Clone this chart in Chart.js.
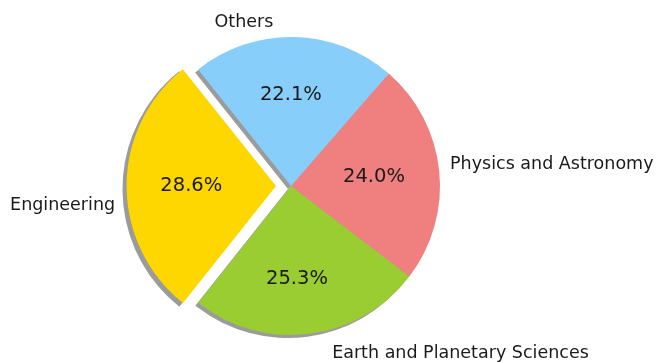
<!DOCTYPE html>
<html>
<head>
<meta charset="utf-8">
<script src="https://cdn.jsdelivr.net/npm/chart.js@4/dist/chart.umd.min.js"></script>
<style>
  html, body { margin: 0; padding: 0; background: #ffffff; }
  canvas { display: block; }
</style>
</head>
<body>
<canvas id="chart" width="657" height="363"></canvas>
<script>
// Share of output by subject area (percent), listed clockwise from the upper right
const categories = ['Physics and Astronomy', 'Earth and Planetary Sciences', 'Engineering', 'Others'];
const shares = [24.0, 25.3, 28.6, 22.1];
const sliceColors = ['#F08080', '#9ACD32', '#FFD700', '#87CEFA'];
const explodedCategory = 'Engineering';

// Geometry of an arc as Chart.js actually paints it (offset shifts the wedge by offset/4)
function arcGeometry(el) {
  const p = el.getProps(['x', 'y', 'startAngle', 'endAngle', 'outerRadius', 'circumference'], true);
  const off = el.options.offset || 0;
  const mid = (p.startAngle + p.endAngle) / 2;
  const shift = off / 4;
  const fix = 1 - Math.sin(Math.min(Math.PI, p.circumference || 0));
  return {
    cx: p.x + Math.cos(mid) * shift,
    cy: p.y + Math.sin(mid) * shift,
    r: p.outerRadius + off * fix,
    R: p.outerRadius,
    start: p.startAngle,
    end: p.endAngle,
    mid: mid
  };
}

// Drop shadow under the wedges, plus percentage and category labels
const pieDecor = {
  id: 'pieDecor',
  beforeDatasetsDraw(chart, args, opts) {
    const ctx = chart.ctx;
    const meta = chart.getDatasetMeta(0);
    ctx.save();
    ctx.fillStyle = opts.shadowColor;
    meta.data.forEach(el => {
      const g = arcGeometry(el);
      const sx = g.cx + opts.shadowDx;
      const sy = g.cy + opts.shadowDy;
      ctx.beginPath();
      ctx.moveTo(sx, sy);
      ctx.arc(sx, sy, g.r, g.start, g.end);
      ctx.closePath();
      ctx.fill();
    });
    ctx.restore();
  },
  afterDatasetsDraw(chart, args, opts) {
    const ctx = chart.ctx;
    const meta = chart.getDatasetMeta(0);
    const values = chart.data.datasets[0].data;
    const names = chart.data.labels;
    ctx.save();
    ctx.fillStyle = opts.color;
    ctx.textBaseline = 'alphabetic';
    meta.data.forEach((el, i) => {
      const g = arcGeometry(el);
      const c = Math.cos(g.mid), s = Math.sin(g.mid);

      // percentage inside the wedge
      const pn = opts.pctNudge[i];
      const px = g.cx + c * g.R * opts.pctDistance + pn[0];
      const py = g.cy + s * g.R * opts.pctDistance + pn[1];
      ctx.font = opts.pctSize + 'px ' + opts.family;
      ctx.textAlign = 'center';
      ctx.fillText(values[i].toFixed(1) + '%', px, py + opts.pctSize * opts.capRatio / 2);

      // category name outside the wedge
      const nn = opts.nameNudge[i];
      const nx = g.cx + c * g.R * opts.nameDistance + nn[0];
      const ny = g.cy + s * g.R * opts.nameDistance + nn[1];
      ctx.font = opts.nameSize + 'px ' + opts.family;
      ctx.textAlign = c > 0.05 ? 'left' : (c < -0.05 ? 'right' : 'center');
      ctx.fillText(names[i], nx, ny + opts.nameSize * opts.capRatio / 2);
    });
    ctx.restore();
  }
};

new Chart(document.getElementById('chart'), {
  type: 'pie',
  data: {
    labels: categories,
    datasets: [{
      data: shares,
      backgroundColor: sliceColors,
      borderWidth: 0,
      hoverOffset: 0,
      offset: c => categories[c.dataIndex] === explodedCategory ? 60 : 0
    }]
  },
  options: {
    responsive: false,
    animation: false,
    events: [],
    rotation: 41,
    radius: 149,
    layout: { padding: { left: 0, right: 75, top: 9, bottom: 0 } },
    plugins: {
      legend: { display: false },
      tooltip: { enabled: false },
      pieDecor: {
        shadowColor: '#9b9b9b',
        shadowDx: -3,
        shadowDy: 3,
        color: '#1a1a1a',
        family: '"DejaVu Sans", sans-serif',
        capRatio: 0.729,
        pctSize: 19.5,
        nameSize: 17.5,
        pctDistance: 0.6,
        nameDistance: 1.1,
        pctNudge: [[-6, -2.3], [-5, 2.3], [4.7, -2], [-2, -3.6]],
        nameNudge: [[-4, -6.4], [21, 2.8], [3, 17], [-50.5, -1.8]]
      }
    }
  },
  plugins: [pieDecor]
});
</script>
</body>
</html>
